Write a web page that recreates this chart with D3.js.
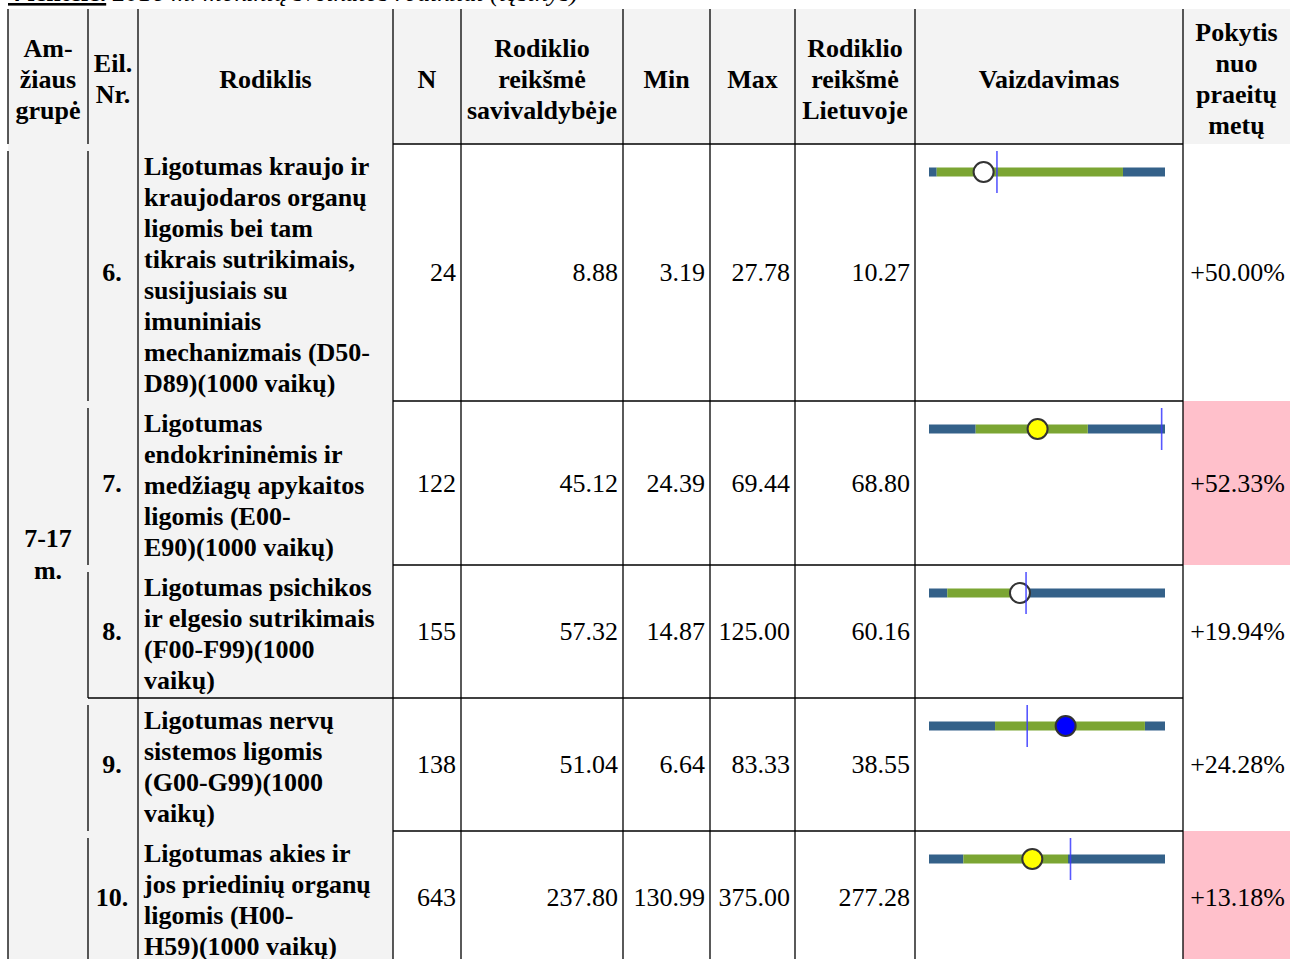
<!DOCTYPE html>
<html lang="lt">
<head>
<meta charset="utf-8">
<script src="https://d3js.org/d3.v7.min.js"></script>
<style>
  body { margin: 0; background: #fff; overflow: hidden; }
  svg text { font-family: "Liberation Serif", "Times New Roman", serif; fill: #000; }
</style>
</head>
<body>
<script>
  // table data
  const titleBold = "4 lentelė.";
  const titleRest = " 2016 m. mokinių sveikatos rodikliai (tęsinys)";
  const headers = [
    ["Am-", "žiaus", "grupė"], ["Eil.", "Nr."], ["Rodiklis"], ["N"],
    ["Rodiklio", "reikšmė", "savivaldybėje"], ["Min"], ["Max"],
    ["Rodiklio", "reikšmė", "Lietuvoje"], ["Vaizdavimas"],
    ["Pokytis", "nuo", "praeitų", "metų"]
  ];
  const ageGroup = ["7-17", "m."];
  const rowNumbers = ["6.", "7.", "8.", "9.", "10."];
  const indicators = [
    ["Ligotumas kraujo ir", "kraujodaros organų", "ligomis bei tam", "tikrais sutrikimais,",
     "susijusiais su", "imuniniais", "mechanizmais (D50-", "D89)(1000 vaikų)"],
    ["Ligotumas", "endokrininėmis ir", "medžiagų apykaitos", "ligomis (E00-", "E90)(1000 vaikų)"],
    ["Ligotumas psichikos", "ir elgesio sutrikimais", "(F00-F99)(1000", "vaikų)"],
    ["Ligotumas nervų", "sistemos ligomis", "(G00-G99)(1000", "vaikų)"],
    ["Ligotumas akies ir", "jos priedinių organų", "ligomis (H00-", "H59)(1000 vaikų)"]
  ];
  const nValues = [24, 122, 155, 138, 643];
  const municipalValues = [8.88, 45.12, 57.32, 51.04, 237.80];
  const minValues = [3.19, 24.39, 14.87, 6.64, 130.99];
  const maxValues = [27.78, 69.44, 125.00, 83.33, 375.00];
  const ltValues = [10.27, 68.80, 60.16, 38.55, 277.28];
  // green band of the bar
  const bandLow = [3.99, 33.3, 23.4, 28.1, 166.5];
  const bandHigh = [23.4, 54.7, 55.0, 76.8, 274.7];
  const dotStatus = ["nereikšmingas", "vidutinis", "nereikšmingas", "geresnis", "vidutinis"];
  const changeValues = [50.00, 52.33, 19.94, 24.28, 13.18];
  const changeFlag = [false, true, false, false, true];

  // layout
  const W = 1290, H = 959;
  const cols = [8, 88, 138, 393, 461, 623, 710, 795, 915, 1183, 1290];
  const headTop = 9, headBottom = 144, headMid = 79;
  const lineH = 31, fs = 26, rowPad = 9;
  const gray = "#f3f3f3";

  const rowH = indicators.map(d => d.length * lineH + rowPad);
  const rowTop = [];
  rowH.reduce((acc, h, i) => { rowTop[i] = acc; return acc + h; }, headBottom);
  const tableBottom = rowTop[4] + rowH[4];

  const svg = d3.select("body").append("svg")
    .attr("width", W).attr("height", H);

  // backgrounds
  svg.append("rect").attr("x", cols[0]).attr("y", headTop)
    .attr("width", W - cols[0]).attr("height", headBottom - headTop).attr("fill", gray);
  svg.append("rect").attr("x", cols[0]).attr("y", headBottom)
    .attr("width", cols[3] - cols[0]).attr("height", tableBottom - headBottom).attr("fill", gray);

  const changeFill = d3.scaleOrdinal().domain([false, true]).range(["#ffffff", "pink"]);
  svg.append("g").selectAll("rect").data(changeFlag).join("rect")
    .attr("x", cols[9]).attr("y", (d, i) => rowTop[i])
    .attr("width", cols[10] - cols[9]).attr("height", (d, i) => rowH[i])
    .attr("fill", d => changeFill(d));

  // title (cut off at top of the page)
  const title = svg.append("text").attr("x", 8).attr("y", 1).attr("font-size", fs);
  title.append("tspan").attr("font-weight", "bold").attr("text-decoration", "underline").text(titleBold);
  title.append("tspan").attr("font-style", "italic").text(titleRest);

  // grid lines
  const lines = [];
  cols.slice(0, 10).forEach((x, c) => {
    if (c === 0) {
      lines.push([x, headTop, x, headBottom], [x, headBottom + 7, x, tableBottom]);
    } else if (c === 1) {
      lines.push([x, headTop, x, headBottom]);
      rowTop.forEach((t, i) => lines.push([x, t + 7, x, t + rowH[i]]));
    } else {
      lines.push([x, headTop, x, tableBottom]);
    }
  });
  lines.push([cols[3], headBottom, cols[9], headBottom]);
  rowTop.slice(1).forEach((t, i) => {
    lines.push([i === 2 ? cols[1] : cols[3], t, cols[9], t]);
  });
  svg.append("g").selectAll("line").data(lines).join("line")
    .attr("x1", d => d[0]).attr("y1", d => d[1]).attr("x2", d => d[2]).attr("y2", d => d[3])
    .attr("stroke", "#000").attr("stroke-width", 1.3);

  // header text
  const hg = svg.append("g").attr("font-size", fs).attr("font-weight", "bold").attr("text-anchor", "middle");
  headers.forEach((hl, c) => {
    const cx = (cols[c] + cols[c + 1]) / 2;
    hl.forEach((s, i) => {
      hg.append("text").attr("x", cx)
        .attr("y", headMid + (i - (hl.length - 1) / 2) * lineH)
        .attr("dy", "0.34em").text(s);
    });
  });

  // age group
  const ageMid = (headBottom + tableBottom) / 2;
  svg.append("g").attr("font-size", fs).attr("font-weight", "bold").attr("text-anchor", "middle")
    .selectAll("text").data(ageGroup).join("text")
    .attr("x", (cols[0] + cols[1]) / 2)
    .attr("y", (d, i) => ageMid + (i - 0.5) * 32)
    .attr("dy", "0.34em").text(d => d);

  const rowMid = i => rowTop[i] + rowH[i] / 2;

  // row numbers
  svg.append("g").attr("font-size", fs).attr("font-weight", "bold").attr("text-anchor", "middle")
    .selectAll("text").data(rowNumbers).join("text")
    .attr("x", (cols[1] + cols[2]) / 2 - 1)
    .attr("y", (d, i) => rowMid(i)).attr("dy", "0.34em").text(d => d);

  // indicator names
  const ig = svg.append("g").attr("font-size", fs).attr("font-weight", "bold");
  indicators.forEach((ls, i) => {
    ig.selectAll(null).data(ls).join("text")
      .attr("x", cols[2] + 6)
      .attr("y", (d, k) => rowTop[i] + 22 + k * lineH)
      .attr("dy", "0.34em").text(d => d);
  });

  // numeric columns
  const f2 = d3.format(".2f");
  const numCols = [
    { c: 4, vals: nValues, fmt: d3.format("d") },
    { c: 5, vals: municipalValues, fmt: f2 },
    { c: 6, vals: minValues, fmt: f2 },
    { c: 7, vals: maxValues, fmt: f2 },
    { c: 8, vals: ltValues, fmt: f2 },
    { c: 10, vals: changeValues, fmt: v => "+" + f2(v) + "%" }
  ];
  const ng = svg.append("g").attr("font-size", fs).attr("text-anchor", "end");
  numCols.forEach(col => {
    ng.selectAll(null).data(col.vals).join("text")
      .attr("x", cols[col.c] - 5)
      .attr("y", (d, i) => rowMid(i)).attr("dy", "0.34em")
      .text(d => col.fmt(d));
  });

  // Vaizdavimas bars
  const dotFill = d3.scaleOrdinal()
    .domain(["nereikšmingas", "vidutinis", "geresnis"])
    .range(["#ffffff", "#ffff00", "#0000ff"]);
  const bg = svg.append("g");
  rowNumbers.forEach((r, i) => {
    const x = d3.scaleLinear().domain([minValues[i], maxValues[i]]).range([cols[8] + 14, cols[9] - 18]);
    const cy = rowTop[i] + 28;
    const segs = [
      [minValues[i], bandLow[i], "#346189"],
      [bandHigh[i], maxValues[i], "#346189"],
      [bandLow[i], bandHigh[i], "#7ba533"]
    ];
    bg.append("g").selectAll("rect").data(segs).join("rect")
      .attr("x", d => x(d[0])).attr("width", d => x(d[1]) - x(d[0]))
      .attr("y", cy - 4.5).attr("height", 9).attr("fill", d => d[2]);
    bg.append("circle").attr("cx", x(municipalValues[i])).attr("cy", cy).attr("r", 10)
      .attr("fill", dotFill(dotStatus[i])).attr("stroke", "#333").attr("stroke-width", 2);
    bg.append("line").attr("x1", x(ltValues[i])).attr("x2", x(ltValues[i]))
      .attr("y1", cy - 21).attr("y2", cy + 21)
      .attr("stroke", "#3b3bff").attr("stroke-opacity", 0.85).attr("stroke-width", 1.6);
  });
</script>
</body>
</html>
